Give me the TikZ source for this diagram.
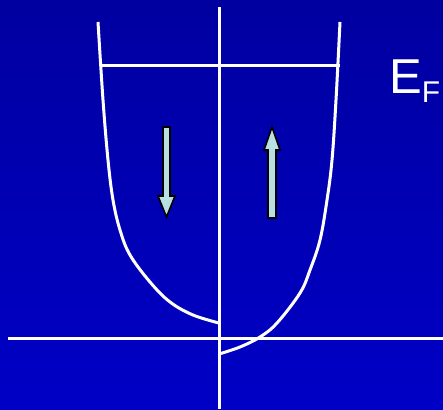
\documentclass[tikz,border=0pt]{standalone}
\usepackage{fontspec}
\setmainfont{Liberation Sans}
\definecolor{bgtop}{RGB}{0,0,160}
\definecolor{bgbot}{RGB}{0,0,198}
\definecolor{arrowfill}{RGB}{184,224,224}
\tikzset{
  wline/.style={white, line width=3pt},
  spinarrow/.style={fill=arrowfill, draw=black, line width=1.6pt, line join=miter},
}
\begin{document}
\begin{tikzpicture}[x=1pt,y=-1pt]
\shade[top color=bgtop, bottom color=bgbot] (0,0) rectangle (443,409);
\useasboundingbox (0,0) rectangle (443,409);
% axes
\draw[wline] (219,7) -- (219,409);
\draw[wline] (8,338) -- (443,338);
% Fermi level
\draw[wline] (100,66) -- (340,66);
% density of states curves
\draw[wline] plot[smooth, tension=0.6] coordinates {(98,22) (103,100) (108,160) (113,200) (120,230) (130,255) (150,282) (170,302) (193,315) (219,323)};
\draw[wline] plot[smooth, tension=0.6] coordinates {(340,22) (336,100) (332,160) (327,200) (320,240) (310,270) (300,293) (277,323) (260,337) (240,347) (219,354)};
% spin arrows
\draw[spinarrow] (163,127) -- (170,127) -- (170,196) -- (175,196) -- (166.5,217) -- (158,196) -- (163,196) -- cycle;
\draw[spinarrow] (268,218) -- (276,218) -- (276,150) -- (280,150) -- (272,127) -- (264,150) -- (268,150) -- cycle;
% label
\node[white, anchor=base west, inner sep=0pt, font=\fontsize{49}{49}\selectfont] (ef) at (389,93) {E\raisebox{-0.2em}{\fontsize{30}{30}\selectfont F}};
\end{tikzpicture}
\end{document}
